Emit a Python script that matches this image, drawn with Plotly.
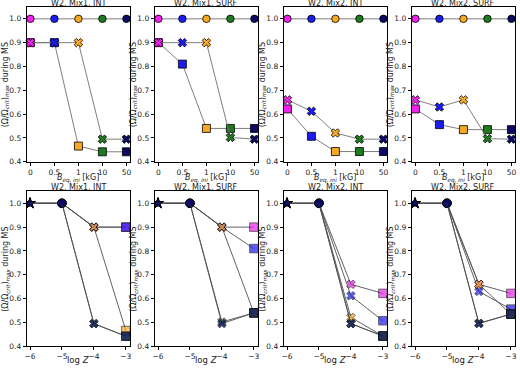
import plotly.graph_objects as go

# ---------------- data ----------------
panel_titles = ["W2, Mix1, INT", "W2, Mix1, SURF", "W2, Mix2, INT", "W2, Mix2, SURF"]
B_labels = ["0", "0.5", "1", "10", "50"]
B_colors = ["#ee22ee", "#1c1cf2", "#f9a825", "#1f7a1f", "#0b0b66"]
logZ_vals = [-6, -5, -4, -3]
logZ_labels = ["\u22126", "\u22125", "\u22124", "\u22123"]

# (Omega/Omega_crit)_max for logZ = -6, -5, -4, -3, per panel, per B
omega_zm6 = [
    [1.0, 1.0, 1.0, 1.0, 1.0],
    [1.0, 1.0, 1.0, 1.0, 1.0],
    [1.0, 1.0, 1.0, 1.0, 1.0],
    [1.0, 1.0, 1.0, 1.0, 1.0],
]
omega_zm5 = [
    [1.0, 1.0, 1.0, 1.0, 1.0],
    [1.0, 1.0, 1.0, 1.0, 1.0],
    [1.0, 1.0, 1.0, 1.0, 1.0],
    [1.0, 1.0, 1.0, 1.0, 1.0],
]
omega_zm4 = [
    [0.90, 0.90, 0.90, 0.495, 0.495],
    [0.90, 0.90, 0.90, 0.502, 0.495],
    [0.660, 0.612, 0.521, 0.495, 0.495],
    [0.660, 0.630, 0.660, 0.497, 0.495],
]
omega_zm3 = [
    [0.90, 0.90, 0.466, 0.442, 0.442],
    [0.90, 0.81, 0.540, 0.540, 0.540],
    [0.622, 0.507, 0.443, 0.443, 0.443],
    [0.622, 0.556, 0.535, 0.535, 0.535],
]

y_ticks = [0.4, 0.5, 0.6, 0.7, 0.8, 0.9, 1.0]

# ---------------- layout geometry ----------------
W, H = 520, 371
x_px = [(25, 129), (154, 258), (284, 388), (413, 517)]
top_px = (7, 164)
bot_px = (194, 351)


def ydom(p):
    return [1 - p[1] / H, 1 - p[0] / H]


fig = go.Figure()
FONT = "DejaVu Sans"
TXT = "#222222"
edge = dict(color="black", width=0.8)

axis_common = dict(
    showline=True, mirror=True, linecolor="black", linewidth=1.2,
    ticks="outside", ticklen=3, tickwidth=0.8, tickcolor="black",
    showgrid=False, zeroline=False,
    tickfont=dict(family=FONT, size=7.5, color=TXT),
)

for i in range(4):
    ti = i + 1
    bi = i + 5
    xa_t = "x" if ti == 1 else f"x{ti}"
    ya_t = "y" if ti == 1 else f"y{ti}"
    xa_b = f"x{bi}"
    ya_b = f"y{bi}"

    # ---- top: vs B ----
    for vals, sym, sz in [(omega_zm5[i], "circle", 7.5), (omega_zm3[i], "square", 8),
                          (omega_zm4[i], "x", 7.5)]:
        fig.add_trace(go.Scatter(
            x=B_labels, y=vals, mode="lines+markers",
            line=dict(color="#707070", width=0.9),
            marker=dict(symbol=sym, size=sz, color=B_colors, line=edge),
            xaxis=xa_t, yaxis=ya_t, showlegend=False, cliponaxis=False))

    # ---- bottom: vs logZ ----
    for b in range(5):
        yv = [omega_zm6[i][b], omega_zm5[i][b], omega_zm4[i][b], omega_zm3[i][b]]
        fig.add_trace(go.Scatter(
            x=logZ_vals, y=yv, mode="lines+markers",
            line=dict(color="#505050", width=0.9),
            marker=dict(symbol=["star", "circle", "x", "square"], size=[8, 8.5, 7.5, 8.5],
                        color=[B_colors[4], B_colors[4], B_colors[b], B_colors[b]],
                        line=edge),
            xaxis=xa_b, yaxis=ya_b, showlegend=False, cliponaxis=True))

    dom = [x_px[i][0] / W, x_px[i][1] / W]
    fig.layout[("xaxis" if ti == 1 else f"xaxis{ti}")] = dict(
        axis_common, domain=dom, anchor=ya_t, type="category",
        range=[-0.15, 4.15], tickvals=B_labels, ticktext=B_labels)
    fig.layout[("yaxis" if ti == 1 else f"yaxis{ti}")] = dict(
        axis_common, domain=ydom(top_px), anchor=xa_t,
        range=[0.4, 1.05], tickvals=y_ticks, tickformat=".1f")
    fig.layout[f"xaxis{bi}"] = dict(
        axis_common, domain=dom, anchor=ya_b,
        range=[-6.1, -2.87], tickvals=logZ_vals, ticktext=logZ_labels)
    fig.layout[f"yaxis{bi}"] = dict(
        axis_common, domain=ydom(bot_px), anchor=xa_b,
        range=[0.4, 1.05], tickvals=y_ticks, tickformat=".1f")

    cx = (x_px[i][0] + x_px[i][1]) / 2 / W
    for row_px in (top_px, bot_px):
        fig.add_annotation(text=panel_titles[i], x=cx, y=1 - (row_px[0] - 3.5) / H,
                           xref="paper", yref="paper", showarrow=False,
                           font=dict(family=FONT, size=8, color=TXT),
                           xanchor="center", yanchor="middle")
    fig.add_annotation(text="<i>B</i><sub><i>eq, ini</i></sub> [kG]", x=cx, y=1 - 181 / H,
                       xref="paper", yref="paper", showarrow=False,
                       font=dict(family=FONT, size=8, color=TXT),
                       xanchor="center", yanchor="middle")
    fig.add_annotation(text="log <i>Z</i>", x=cx, y=1 - 365 / H,
                       xref="paper", yref="paper", showarrow=False,
                       font=dict(family=FONT, size=8.5, color=TXT),
                       xanchor="center", yanchor="middle")
    ytxt = "(\u03a9/\u03a9<sub><i>crit</i></sub>)<sub><i>max</i></sub> during MS"
    for row_px in (top_px, bot_px):
        fig.add_annotation(text=ytxt, x=(x_px[i][0] - 21) / W,
                           y=1 - (row_px[0] + row_px[1]) / 2 / H,
                           xref="paper", yref="paper", showarrow=False, textangle=-90,
                           font=dict(family=FONT, size=8, color=TXT),
                           xanchor="center", yanchor="middle")

fig.update_layout(
    width=W, height=H, margin=dict(l=0, r=0, t=0, b=0),
    paper_bgcolor="white", plot_bgcolor="white",
    font=dict(family=FONT),
)

fig.write_html("out.html", config={"displayModeBar": False},
               post_script="document.body.style.margin='0';document.body.style.overflow='hidden';")
